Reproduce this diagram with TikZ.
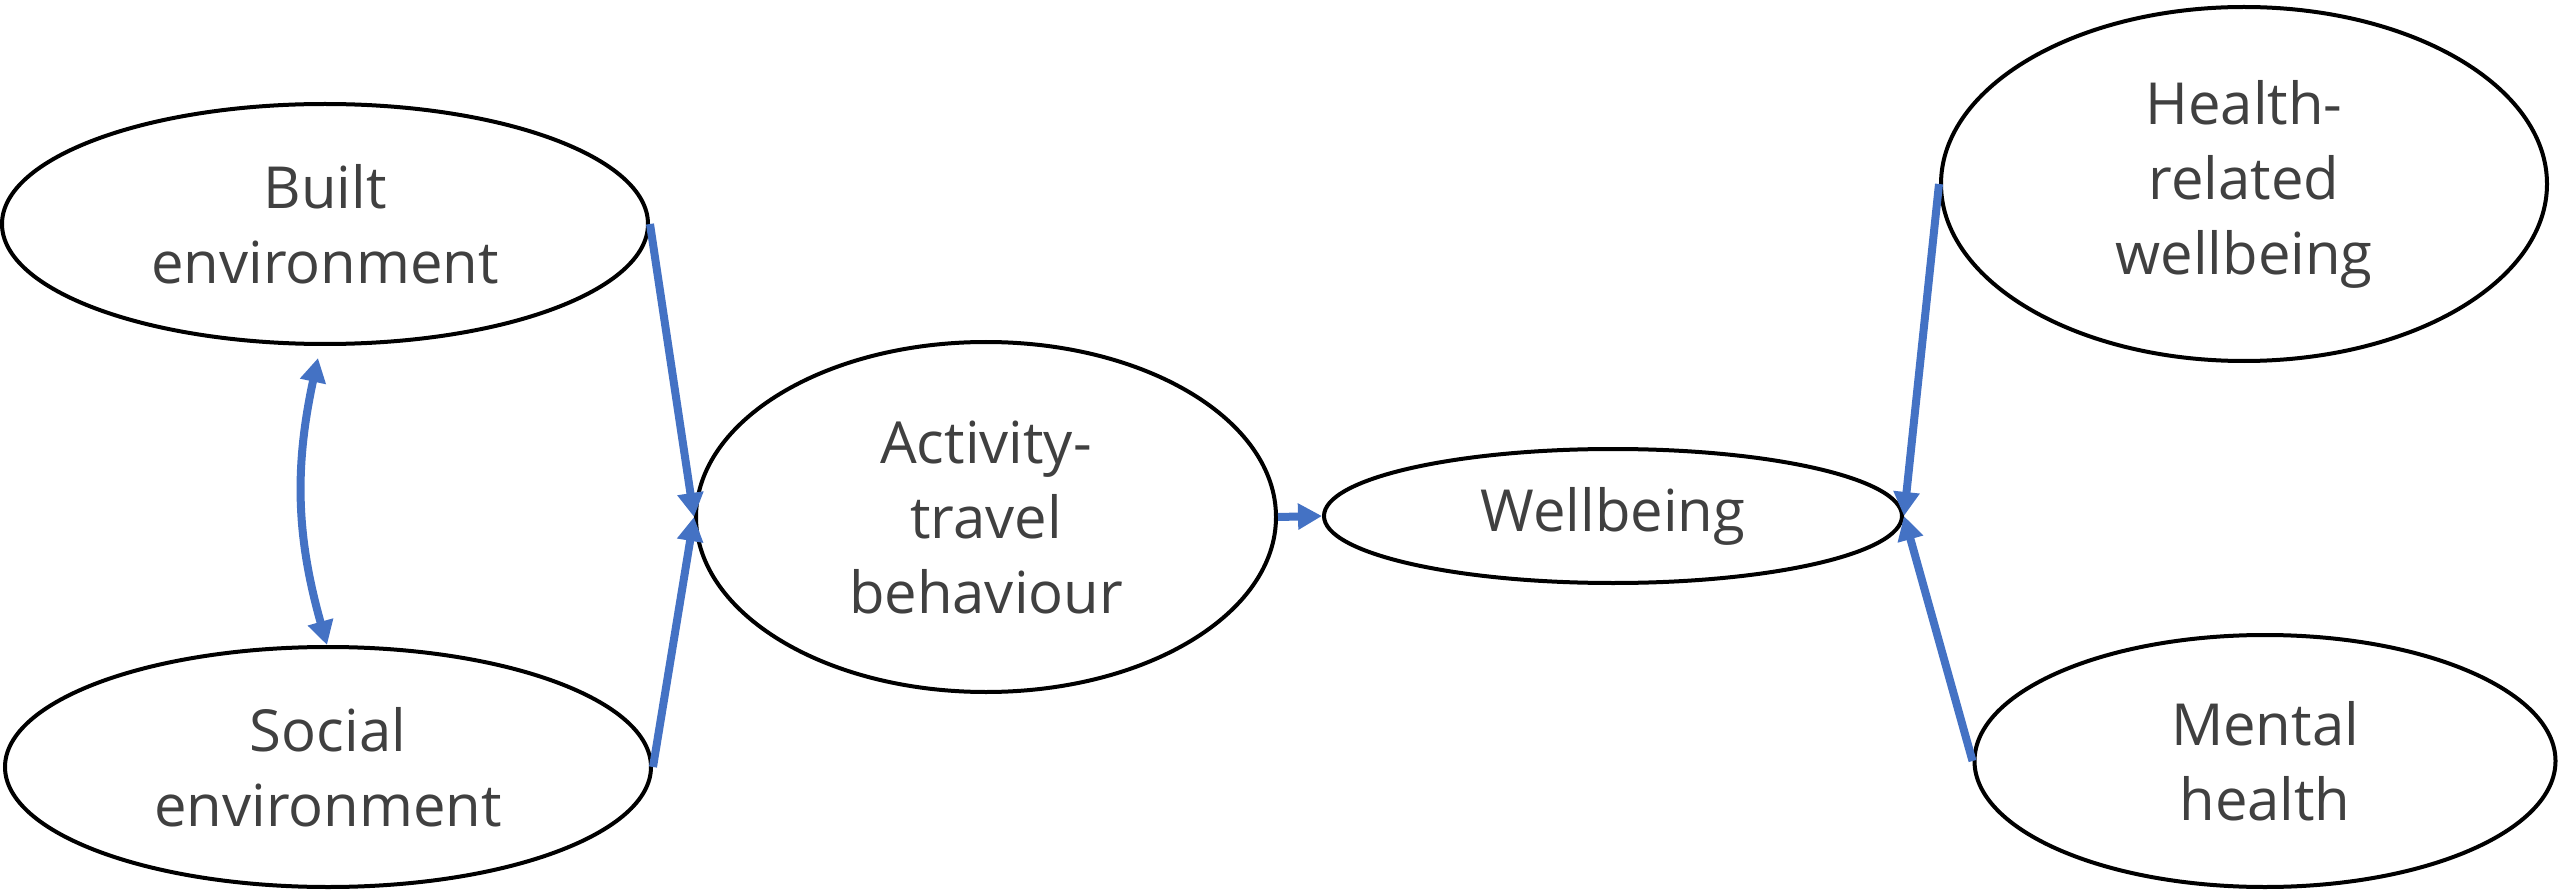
\documentclass[tikz,border=0pt]{standalone}
\usepackage{fontspec}
\setmainfont{Open Sans}
\usetikzlibrary{shapes.geometric,arrows.meta}
\definecolor{linkblue}{HTML}{4472C4}
\definecolor{labelgray}{HTML}{404040}
\tikzset{
  concept/.style={ellipse, draw=black, line width=4pt, inner sep=0pt,
    align=center, text=labelgray, font=\fontsize{58}{75}\selectfont},
  link/.style={draw=linkblue, line width=8pt,
    -{Triangle[length=24pt,width=25pt]}},
  twoway/.style={draw=linkblue, line width=8pt,
    {Triangle[length=24pt,width=25pt]}-{Triangle[length=24pt,width=25pt]}}
}
\begin{document}
\begin{tikzpicture}[x=1pt,y=-1pt]
\useasboundingbox (0,0) rectangle (2560,893);
% factors on the left
\node[concept, minimum width=646pt, minimum height=240pt] (built) at (325,224) {Built\\environment};
\node[concept, minimum width=646pt, minimum height=240pt] (social) at (328,767) {Social\\environment};
% mediator and outcome
\node[concept, minimum width=580pt, minimum height=350pt] (activity) at (986,517) {Activity-\\travel\\behaviour};
\node[concept, minimum width=578pt, minimum height=134pt] (wellbeing) at (1613,516) {Wellbeing};
% components on the right
\node[concept, minimum width=606pt, minimum height=354pt] (health) at (2244,184) {Health-\\related\\wellbeing};
\node[concept, minimum width=581pt, minimum height=252pt] (mental) at (2265,761) {Mental\\health};
% connectors
\coordinate (bt) at (318,358);
\coordinate (sb) at (327,645);
\draw[twoway] (bt) to[bend right=14] (sb);
\draw[link] (built.east) -- (activity.west);
\draw[link] (social.east) -- (activity.west);
\draw[link] (activity.east) -- (wellbeing.west);
\draw[link] (health.west) -- (wellbeing.east);
\draw[link] (mental.west) -- (wellbeing.east);
\end{tikzpicture}
\end{document}
